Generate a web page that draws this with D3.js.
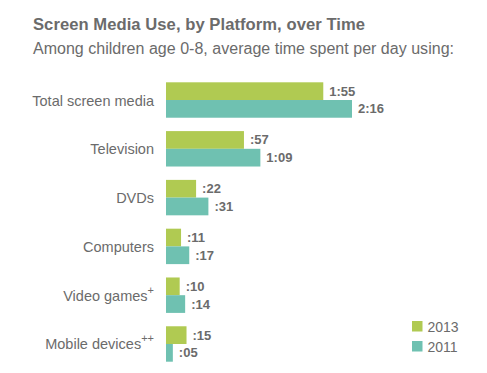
<!DOCTYPE html>
<html>
<head>
<meta charset="utf-8">
<script src="https://cdn.jsdelivr.net/npm/d3@7"></script>
<style>
  body { margin: 0; background: #fff; }
  svg { display: block; font-family: "Liberation Sans", Arial, Helvetica, sans-serif; }
</style>
</head>
<body>
<div id="chart"></div>
<script>
// chart data (minutes per day)
var categories = ["Total screen media", "Television", "DVDs", "Computers", "Video games", "Mobile devices"];
var supers = ["", "", "", "", "+", "++"];
var years = ["2013", "2011"];
var values2013 = [115, 57, 22, 11, 10, 15];
var values2011 = [136, 69, 31, 17, 14, 5];

var w = 487, h = 373;
var colors = { "2013": "#b0ca52", "2011": "#6fc1b1" };
var textCol = "#6b6b6b";

var svg = d3.select("#chart")
    .append("svg")
    .attr("width", w)
    .attr("height", h);

svg.append("text")
    .attr("x", 33)
    .attr("y", 29.5)
    .attr("font-size", 16.6)
    .attr("font-weight", "bold")
    .attr("fill", textCol)
    .attr("textLength", 332)
    .text("Screen Media Use, by Platform, over Time");

svg.append("text")
    .attr("x", 33)
    .attr("y", 53.5)
    .attr("font-size", 16)
    .attr("fill", textCol)
    .attr("textLength", 421)
    .text("Among children age 0-8, average time spent per day using:");

var x = d3.scaleLinear().domain([0, 136]).range([166, 352]);
var y = d3.scaleBand().domain(categories).range([82.3, 361.7]).paddingInner(0.274);
var ySub = d3.scaleBand().domain(years).range([0, y.bandwidth()]);

function fmt(m) {
    var hr = Math.floor(m / 60), mn = m % 60;
    return (hr > 0 ? hr : "") + ":" + (mn < 10 ? "0" + mn : mn);
}

var rows = categories.map(function(c, i) {
    return { cat: c, sup: supers[i], vals: [
        { year: "2013", v: values2013[i] },
        { year: "2011", v: values2011[i] }
    ]};
});

var g = svg.selectAll(".grp")
    .data(rows)
    .enter().append("g")
    .attr("class", "grp")
    .attr("transform", function(d) { return "translate(0," + y(d.cat) + ")"; });

// category labels
var lab = g.append("text")
    .attr("x", 154)
    .attr("y", y.bandwidth() / 2 + 5.5)
    .attr("text-anchor", "end")
    .attr("font-size", 14.5)
    .attr("fill", textCol);
lab.append("tspan").text(function(d) { return d.cat; });
lab.append("tspan")
    .attr("dy", -7)
    .attr("font-size", 11)
    .text(function(d) { return d.sup; });

g.selectAll("rect")
    .data(function(d) { return d.vals; })
    .enter().append("rect")
    .attr("x", x(0))
    .attr("y", function(d) { return ySub(d.year); })
    .attr("width", function(d) { return x(d.v) - x(0); })
    .attr("height", ySub.bandwidth())
    .attr("fill", function(d) { return colors[d.year]; });

g.selectAll(".val")
    .data(function(d) { return d.vals; })
    .enter().append("text")
    .attr("class", "val")
    .attr("x", function(d) { return x(d.v) + 6; })
    .attr("y", function(d) { return ySub(d.year) + ySub.bandwidth() / 2 + 4.5; })
    .attr("font-size", 13)
    .attr("font-weight", "bold")
    .attr("fill", textCol)
    .text(function(d) { return fmt(d.v); });

// legend
var leg = svg.selectAll(".leg")
    .data(years)
    .enter().append("g")
    .attr("class", "leg")
    .attr("transform", function(d, i) { return "translate(412," + (321 + i * 20) + ")"; });
leg.append("rect")
    .attr("width", 10.5)
    .attr("height", 10.5)
    .attr("fill", function(d) { return colors[d]; });
leg.append("text")
    .attr("x", 15.5)
    .attr("y", 10.5)
    .attr("font-size", 14)
    .attr("fill", textCol)
    .text(function(d) { return d; });
</script>
</body>
</html>
